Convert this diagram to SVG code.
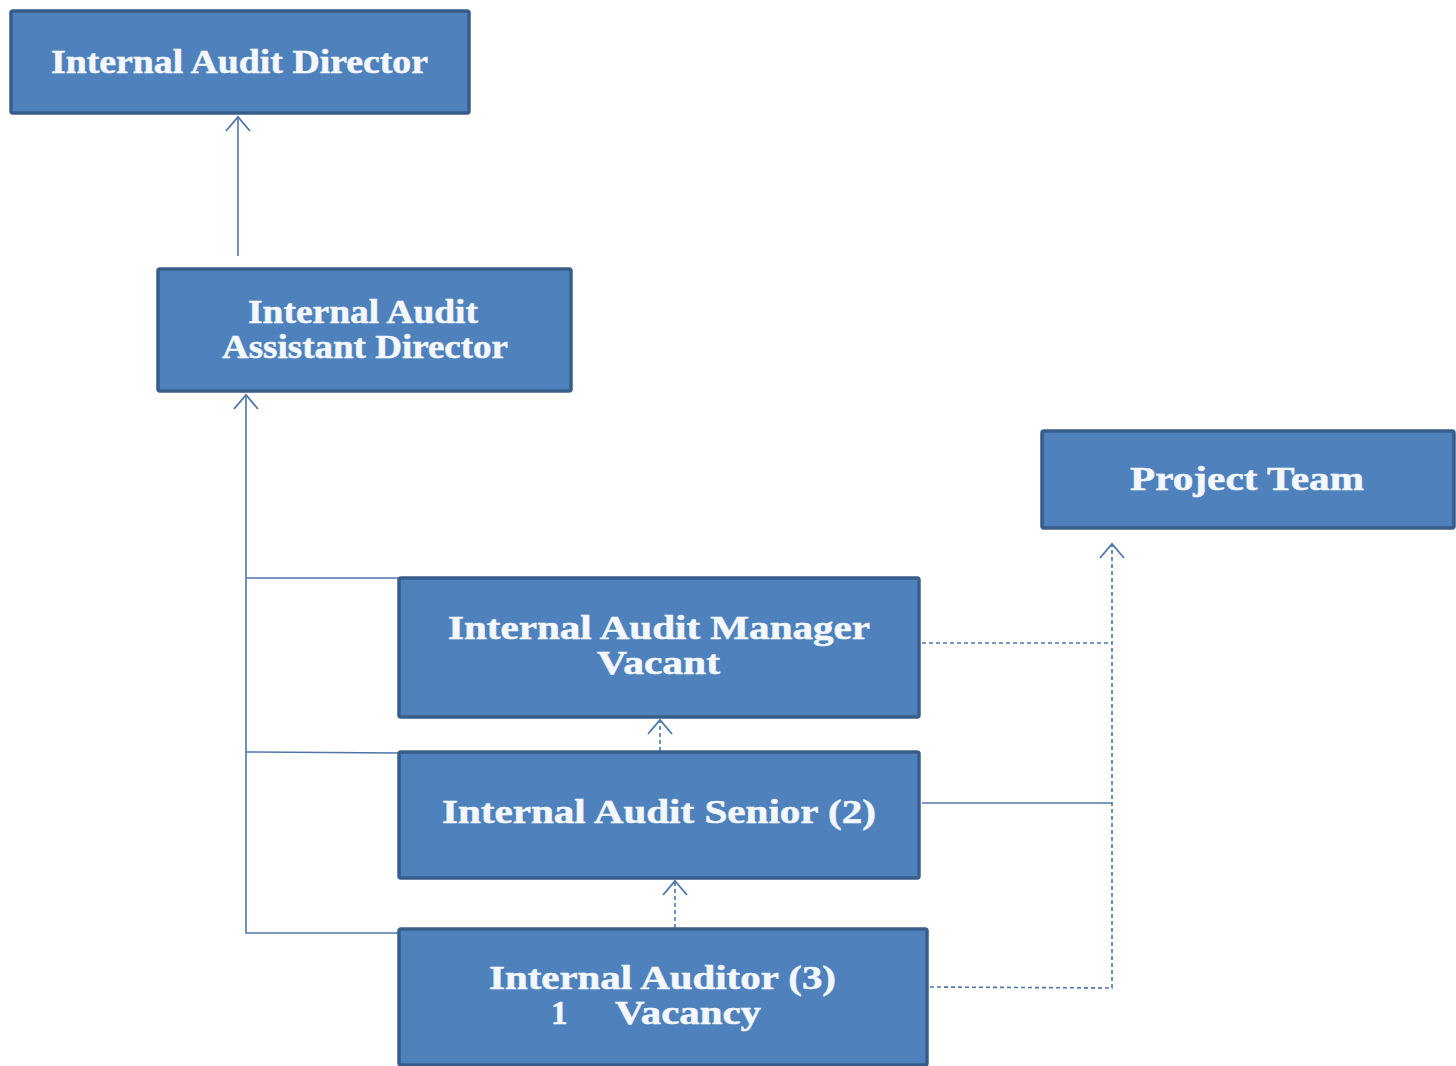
<svg xmlns="http://www.w3.org/2000/svg" width="1456" height="1066" viewBox="0 0 1456 1066">
<defs>
<style>
.box{fill:#4f81bd;stroke:#385d8a;stroke-width:3.5}
.lbl{font-family:"Liberation Serif","Times New Roman",serif;font-weight:bold;font-size:33px;fill:#f4f8fc;stroke:#f4f8fc;stroke-width:0.5}
.ln{fill:none;stroke:#4f76a8;stroke-width:1.6}
.dash{stroke-dasharray:4 3}
</style>
<marker id="arr" markerWidth="26" markerHeight="26" refX="15" refY="13" orient="auto" markerUnits="userSpaceOnUse" viewBox="0 0 26 26">
<path d="M1 1 L15 13 L1 25" fill="none" stroke="#4f76a8" stroke-width="1.8"/>
</marker>
</defs>
<rect width="1456" height="1066" fill="#ffffff"/>
<g id="connectors">
<line class="ln" x1="238" y1="256" x2="238" y2="117" marker-end="url(#arr)"/>
<polyline class="ln" points="398,578 246,578"/>
<polyline class="ln" points="398,753 246,752"/>
<polyline class="ln" points="398,933 246,933 246,395" marker-end="url(#arr)"/>
<line class="ln dash" x1="660" y1="751" x2="660" y2="720" marker-end="url(#arr)"/>
<line class="ln dash" x1="675" y1="928" x2="675" y2="881" marker-end="url(#arr)"/>
<line class="ln dash" x1="922" y1="643" x2="1112" y2="643"/>
<line class="ln" x1="922" y1="803" x2="1112" y2="803"/>
<polyline class="ln dash" points="930,987 1112,988 1112,544" marker-end="url(#arr)"/>
</g>
<g id="director">
<rect class="box" x="11" y="11" width="458" height="102" rx="2"/>
<text class="lbl" x="51" y="73" textLength="377" lengthAdjust="spacingAndGlyphs">Internal Audit Director</text>
</g>
<g id="assistant-director">
<rect class="box" x="158" y="269" width="413" height="122" rx="2"/>
<text class="lbl" x="248" y="323" textLength="230" lengthAdjust="spacingAndGlyphs">Internal Audit</text>
<text class="lbl" x="222" y="358" textLength="286" lengthAdjust="spacingAndGlyphs">Assistant Director</text>
</g>
<g id="project-team">
<rect class="box" x="1042" y="431" width="412" height="97" rx="2"/>
<text class="lbl" x="1130" y="490" textLength="234" lengthAdjust="spacingAndGlyphs">Project Team</text>
</g>
<g id="manager">
<rect class="box" x="399" y="578" width="520" height="139" rx="2"/>
<text class="lbl" x="448" y="639" textLength="422" lengthAdjust="spacingAndGlyphs">Internal Audit Manager</text>
<text class="lbl" x="597" y="674" textLength="123" lengthAdjust="spacingAndGlyphs">Vacant</text>
</g>
<g id="senior">
<rect class="box" x="399" y="752" width="520" height="126" rx="2"/>
<text class="lbl" x="442" y="823" textLength="434" lengthAdjust="spacingAndGlyphs">Internal Audit Senior (2)</text>
</g>
<g id="auditor">
<rect class="box" x="399" y="929" width="528" height="136" rx="2"/>
<text class="lbl" x="489" y="989" textLength="347" lengthAdjust="spacingAndGlyphs">Internal Auditor (3)</text>
<text class="lbl" x="551" y="1024">1</text>
<text class="lbl" x="615" y="1024" textLength="146" lengthAdjust="spacingAndGlyphs">Vacancy</text>
</g>
</svg>
